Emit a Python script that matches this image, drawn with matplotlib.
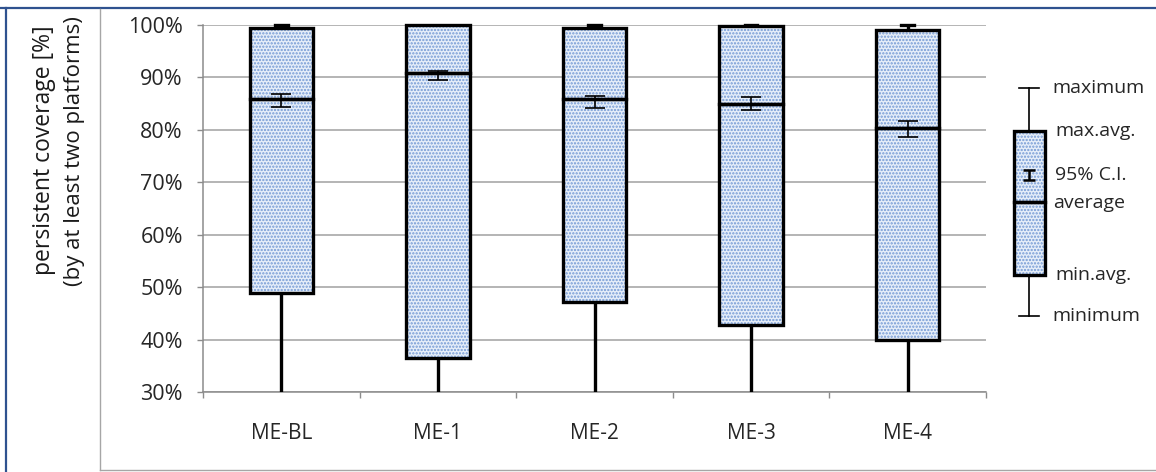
import matplotlib
matplotlib.use("Agg")
import matplotlib.pyplot as plt
from matplotlib.lines import Line2D
import numpy as np

# ---- data (fractions) ----
categories = ["ME-BL", "ME-1", "ME-2", "ME-3", "ME-4"]
maximum    = [1.000, 1.000, 1.000, 1.000, 1.000]
max_avg    = [0.995, 1.000, 0.994, 0.998, 0.990]
average    = [0.859, 0.909, 0.858, 0.849, 0.803]
ci_high    = [0.868, 0.913, 0.865, 0.862, 0.817]
ci_low     = [0.844, 0.896, 0.841, 0.838, 0.786]
min_avg    = [0.489, 0.364, 0.471, 0.427, 0.399]
minimum    = [0.200, 0.200, 0.200, 0.200, 0.200]
yticks     = [0.3, 0.4, 0.5, 0.6, 0.7, 0.8, 0.9, 1.0]
ytick_labels = ["30%", "40%", "50%", "60%", "70%", "80%", "90%", "100%"]
legend_labels = ["maximum", "max.avg.", "95% C.I.", "average", "min.avg.", "minimum"]

W, H = 1156, 472
plt.rcParams['font.family'] = ['Open Sans', 'DejaVu Sans']
fig = plt.figure(figsize=(W / 100, H / 100), dpi=100)

def fx(px): return px / W
def fy(py): return 1 - py / H

# frame lines
blue = '#2F528F'
grayf = '#A6A6A6'
fig.add_artist(Line2D([fx(0), fx(W)], [fy(8), fy(8)], color=blue, lw=1.6))
fig.add_artist(Line2D([fx(6), fx(6)], [fy(8), fy(H)], color=blue, lw=1.6))
fig.add_artist(Line2D([fx(100), fx(100)], [fy(9), fy(470)], color=grayf, lw=1.0))
fig.add_artist(Line2D([fx(100), fx(W)], [fy(470), fy(470)], color=grayf, lw=1.0))

# main axes
ax = fig.add_axes([fx(203), fy(392), fx(986) - fx(203), (392 - 25) / H])
ax.set_xlim(0, len(categories))
ax.set_ylim(0.3, 1.0)
x = np.arange(len(categories)) + 0.5
bw = 0.405
fill_c = '#E6EEF9'
dot_c = '#7399D4'
plt.rcParams['hatch.linewidth'] = 1.1

for i in range(len(categories)):
    ax.plot([x[i], x[i]], [minimum[i], min_avg[i]], color='black', lw=2.4, zorder=3, solid_capstyle='butt')
    if maximum[i] > max_avg[i]:
        ax.plot([x[i], x[i]], [max_avg[i], maximum[i]], color='black', lw=2.4, zorder=3,
                solid_capstyle='butt', clip_on=False)
        ax.plot([x[i] - 0.04, x[i] + 0.04], [maximum[i], maximum[i]], color='black', lw=2.4,
                zorder=3, clip_on=False)

ax.bar(x, np.array(average) - np.array(min_avg), bottom=min_avg, width=bw,
       facecolor=fill_c, edgecolor=dot_c, hatch='.....', lw=0, zorder=4)
ax.bar(x, np.array(max_avg) - np.array(average), bottom=average, width=bw,
       facecolor=fill_c, edgecolor=dot_c, hatch='.....', lw=0, zorder=4, clip_on=False)
ax.bar(x, np.array(average) - np.array(min_avg), bottom=min_avg, width=bw,
       fill=False, edgecolor='black', lw=2.4, zorder=5)
ax.bar(x, np.array(max_avg) - np.array(average), bottom=average, width=bw,
       fill=False, edgecolor='black', lw=2.4, zorder=5, clip_on=False)

ax.errorbar(x, average, yerr=[np.array(average) - np.array(ci_low), np.array(ci_high) - np.array(average)],
            fmt='none', ecolor='black', elinewidth=1.2, capsize=7, capthick=1.2, zorder=6)

for s in ['top', 'right']:
    ax.spines[s].set_visible(False)
for s in ['left', 'bottom']:
    ax.spines[s].set_color('#8C8C8C')
    ax.spines[s].set_linewidth(1.1)
ax.set_yticks(yticks)
ax.set_yticklabels(ytick_labels)
ax.yaxis.grid(True, color='#A0A0A0', lw=1.1, zorder=0)
ax.set_axisbelow(True)
ax.tick_params(axis='y', direction='out', length=4.5, width=1.0, color='#8C8C8C',
               pad=10, labelsize=15.5, labelcolor='#262626')
ax.set_xticks(x)
ax.set_xticklabels(categories)
ax.set_xticks(np.arange(len(categories) + 1), minor=True)
ax.tick_params(axis='x', which='major', length=0, pad=22, labelsize=15, labelcolor='#262626')
ax.tick_params(axis='x', which='minor', direction='out', length=4.5, width=1.0, color='#8C8C8C')

fig.text(fx(44), fy(150), "persistent coverage [%]", rotation=90, ha='center', va='center',
         fontsize=16.5, color='#1A1A1A')
fig.text(fx(75), fy(151), "(by at least two platforms)", rotation=90, ha='center', va='center',
         fontsize=16, color='#1A1A1A')

# legend drawing (pixel-based axes)
lax = fig.add_axes([0, 0, 1, 1], facecolor='none')
lax.set_xlim(0, W)
lax.set_ylim(H, 0)
lax.axis('off')
cxl = 1029
lax.plot([cxl, cxl], [88, 131], color='black', lw=1.2)
lax.plot([cxl - 10, cxl + 10], [88, 88], color='black', lw=1.2)
lax.plot([cxl, cxl], [275, 316], color='black', lw=1.2)
lax.plot([cxl - 10, cxl + 10], [316, 316], color='black', lw=1.2)
lax.bar([cxl + 0.5], [275 - 131], bottom=[131], width=31, facecolor=fill_c, edgecolor=dot_c,
        hatch='.....', lw=0, zorder=4)
lax.bar([cxl + 0.5], [202 - 131], bottom=[131], width=31, fill=False, edgecolor='black', lw=2.4, zorder=5)
lax.bar([cxl + 0.5], [275 - 202], bottom=[202], width=31, fill=False, edgecolor='black', lw=2.4, zorder=5)
lax.errorbar([cxl], [175], yerr=[[5], [5]], fmt='none', ecolor='black', elinewidth=1.8, capsize=4,
             capthick=1.8, zorder=6)
leg_y = [88, 131, 175, 203, 275, 316]
leg_x = [1052, 1055, 1055, 1053, 1055, 1052]
for lx, ly, lab in zip(leg_x, leg_y, legend_labels):
    lax.text(lx, ly, lab, ha='left', va='center', fontsize=14, color='#262626')

fig.savefig("out.png", dpi=100)
